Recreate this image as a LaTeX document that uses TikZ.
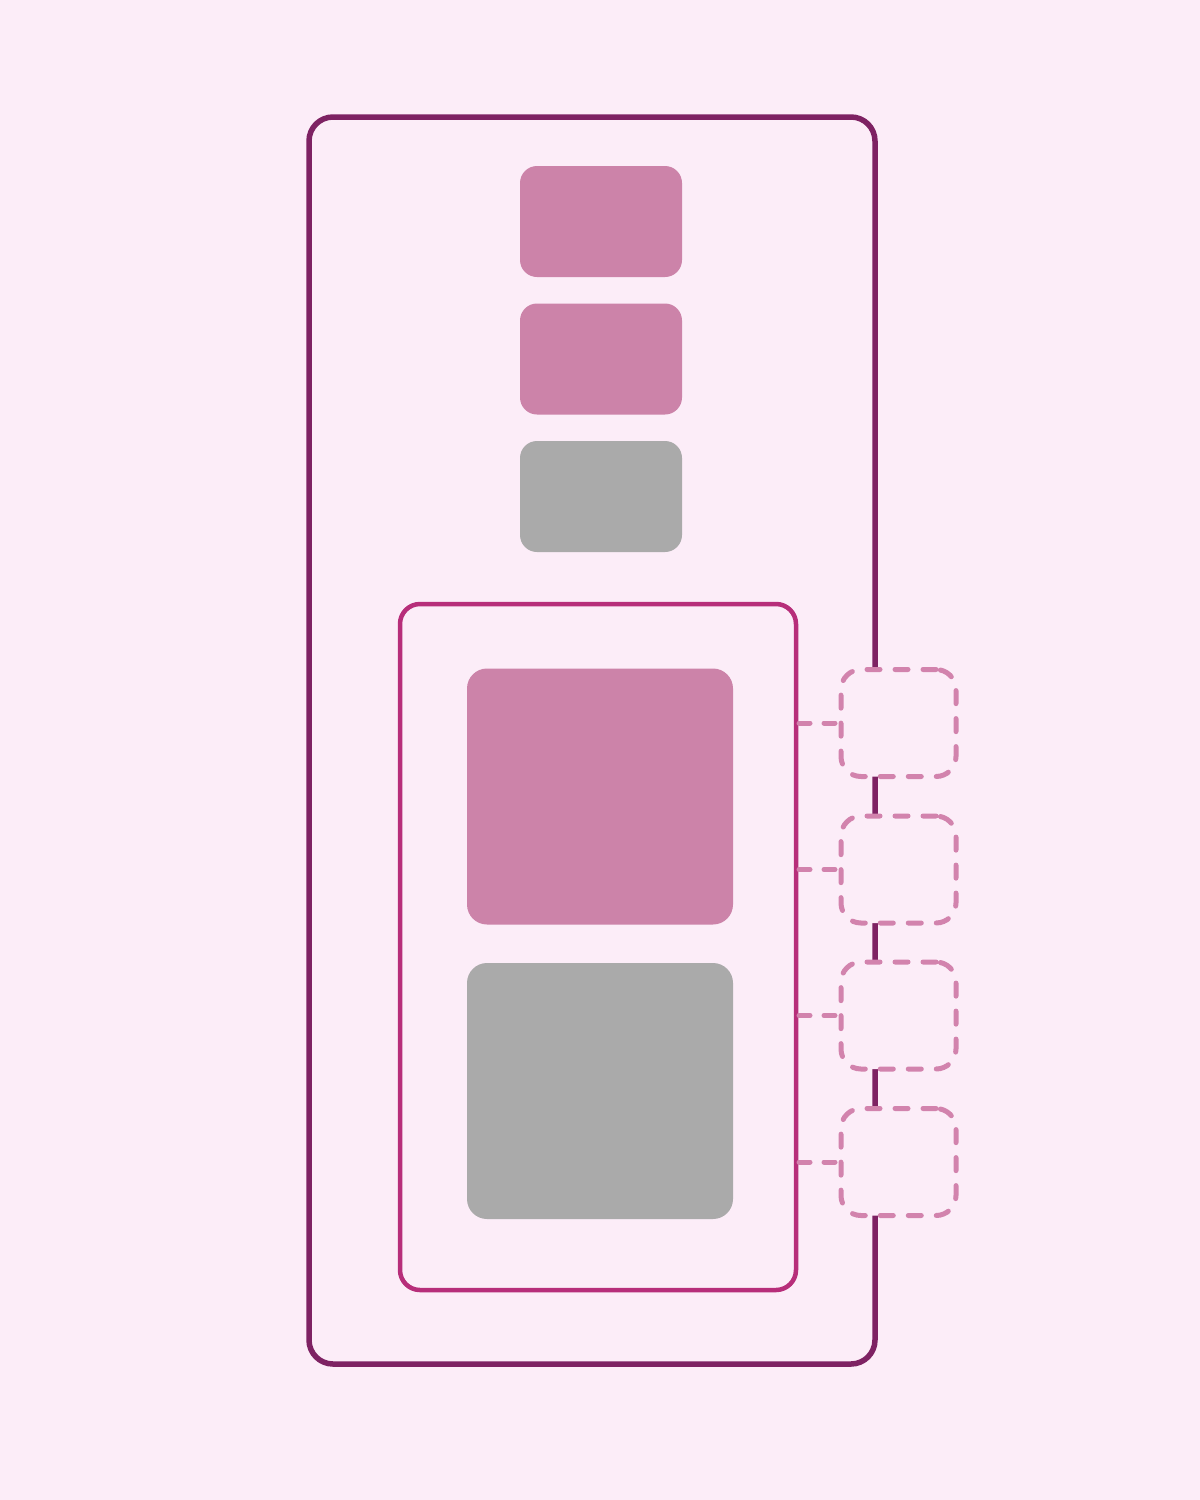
\documentclass[tikz,border=0pt]{standalone}
\begin{document}
\begin{tikzpicture}[x=1pt,y=-1pt,
  every node/.style={inner sep=0pt, outer sep=0pt},
  outerbox/.style={draw=outerc, line width=5.5pt, rounded corners=24pt, rectangle},
  innerbox/.style={draw=innerc, line width=4.5pt, rounded corners=20pt, rectangle},
  pinkblock/.style={fill=pinkc, rounded corners=17pt, rectangle},
  grayblock/.style={fill=grayc, rounded corners=17pt, rectangle},
  smallsz/.style={minimum width=162pt, minimum height=111pt},
  bigsz/.style={minimum width=266pt, minimum height=256pt, rounded corners=20pt},
  dashbox/.style={draw=dashc, fill=bgc, line width=5pt, dash pattern=on 13pt off 15pt, line cap=round, rounded corners=20pt, rectangle, minimum width=115pt, minimum height=107pt},
  dashlink/.style={draw=dashc, line width=5pt, dash pattern=on 11pt off 14pt, line cap=round}
]
\definecolor{bgc}{HTML}{FCEDF8}
\definecolor{outerc}{HTML}{7E2263}
\definecolor{innerc}{HTML}{B72E7A}
\definecolor{pinkc}{HTML}{CC83A9}
\definecolor{grayc}{HTML}{AAAAAA}
\definecolor{dashc}{HTML}{D283AD}
\fill[bgc] (0,0) rectangle (1200,1500);
\useasboundingbox (0,0) rectangle (1200,1500);

\node[outerbox, minimum width=566pt, minimum height=1247pt] (outer) at (592,740.5) {};
\node[innerbox, minimum width=396pt, minimum height=686pt] (inner) at (598,947) {};

\node[pinkblock, smallsz] (s1) at (601,221.5) {};
\node[pinkblock, smallsz] (s2) at (601,359) {};
\node[grayblock, smallsz] (s3) at (601,496.5) {};

\node[pinkblock, bigsz] (b1) at (600,796.5) {};
\node[grayblock, bigsz] (b2) at (600,1091) {};

\node[dashbox] (d1) at (898.5,723) {};
\node[dashbox] (d2) at (898.5,869.5) {};
\node[dashbox] (d3) at (898.5,1015.5) {};
\node[dashbox] (d4) at (898.5,1162) {};

\foreach \d in {d1,d2,d3,d4}{
  \draw[dashlink] (inner.east |- \d.west) ++(3pt,0) -- (\d.west);
}
\end{tikzpicture}
\end{document}
